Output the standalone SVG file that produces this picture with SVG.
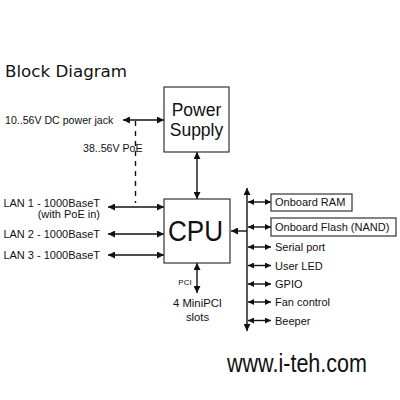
<svg xmlns="http://www.w3.org/2000/svg" width="400" height="400" viewBox="0 0 400 400">
<defs>
<marker id="ah" viewBox="0 0 10 10" refX="10" refY="5" markerWidth="9" markerHeight="7" markerUnits="userSpaceOnUse" orient="auto-start-reverse">
<path d="M0,0 L10,5 L0,10 Z" fill="#111"/>
</marker>
<marker id="as" viewBox="0 0 10 10" refX="10" refY="5" markerWidth="7.5" markerHeight="6" markerUnits="userSpaceOnUse" orient="auto-start-reverse">
<path d="M0,0 L10,5 L0,10 Z" fill="#111"/>
</marker>
</defs>
<style>
.t{font-family:"Liberation Sans",Arial,sans-serif;fill:#111;font-size:11px}
.box{fill:#fff;stroke:#333;stroke-width:1.2}
.c{stroke:#111;stroke-width:1.4;fill:none}
.d{marker-start:url(#ah);marker-end:url(#ah)}
.s{marker-start:url(#as);marker-end:url(#as)}
</style>
<rect width="400" height="400" fill="#fff"/>
<text x="5" y="77" style="font-family:'DejaVu Sans',sans-serif;font-size:16.7px;fill:#111">Block Diagram</text>

<g id="connectors">
<line class="c d" x1="123" y1="120" x2="164" y2="120"/>
<line class="c" x1="135.5" y1="121" x2="135.5" y2="203" stroke-dasharray="5,5"/>
<line class="c d" x1="197" y1="152" x2="197" y2="199"/>
<line class="c d" x1="108" y1="207" x2="164" y2="207"/>
<line class="c d" x1="108" y1="234" x2="164" y2="234"/>
<line class="c d" x1="108" y1="255" x2="164" y2="255"/>
<line class="c d" x1="197" y1="263" x2="197" y2="293"/>
<line class="c d" x1="247" y1="188" x2="247" y2="331"/>
<line class="c" x1="247" y1="231" x2="231" y2="231" style="marker-end:url(#ah)"/>
<line class="c s" x1="248" y1="202" x2="271" y2="202"/>
<line class="c s" x1="248" y1="227" x2="271" y2="227"/>
<line class="c s" x1="248" y1="247" x2="271" y2="247"/>
<line class="c s" x1="248" y1="265.5" x2="271" y2="265.5"/>
<line class="c s" x1="248" y1="284" x2="271" y2="284"/>
<line class="c s" x1="248" y1="302" x2="271" y2="302"/>
<line class="c s" x1="248" y1="320.5" x2="271" y2="320.5"/>
</g>

<g id="dc-jack"><text class="t" x="5" y="124" style="font-size:10.6px">10..56V DC power jack</text></g>
<g id="poe"><text class="t" x="83" y="152" style="font-size:10.6px">38..56V PoE</text></g>

<g id="power-supply">
<rect class="box" x="164" y="87" width="65" height="65"/>
<text class="t" x="196.5" y="115.5" text-anchor="middle" style="font-size:17.5px">Power</text>
<text class="t" x="196.5" y="135.5" text-anchor="middle" style="font-size:17.5px">Supply</text>
</g>

<g id="cpu">
<rect class="box" x="164" y="199" width="66" height="64"/>
<text class="t" x="168" y="241" textLength="55" lengthAdjust="spacingAndGlyphs" style="font-size:29px">CPU</text>
</g>

<g id="lan1">
<text class="t" x="100" y="207" text-anchor="end">LAN 1 - 1000BaseT</text>
<text class="t" x="100" y="218" text-anchor="end">(with PoE in)</text>
</g>
<g id="lan2"><text class="t" x="100" y="238" text-anchor="end">LAN 2 - 1000BaseT</text></g>
<g id="lan3"><text class="t" x="100" y="259" text-anchor="end">LAN 3 - 1000BaseT</text></g>

<g id="pci">
<text class="t" x="185" y="285" text-anchor="middle" style="font-size:8px">PCI</text>
<text class="t" x="197.5" y="307" text-anchor="middle" style="font-size:11.3px">4 MiniPCI</text>
<text class="t" x="197.5" y="321" text-anchor="middle" style="font-size:11.3px">slots</text>
</g>

<g id="ram">
<rect class="box" x="271" y="194" width="81" height="17"/>
<text class="t" x="275" y="206">Onboard RAM</text>
</g>
<g id="flash">
<rect class="box" x="271" y="218" width="125" height="18"/>
<text class="t" x="275" y="231">Onboard Flash (NAND)</text>
</g>
<g id="serial"><text class="t" x="275" y="251">Serial port</text></g>
<g id="led"><text class="t" x="275" y="269.5">User LED</text></g>
<g id="gpio"><text class="t" x="275" y="288">GPIO</text></g>
<g id="fan"><text class="t" x="275" y="306">Fan control</text></g>
<g id="beeper"><text class="t" x="275" y="324.5">Beeper</text></g>

<text class="t" x="227" y="372" textLength="140" lengthAdjust="spacingAndGlyphs" style="font-size:25px">www.i-teh.com</text>
</svg>
